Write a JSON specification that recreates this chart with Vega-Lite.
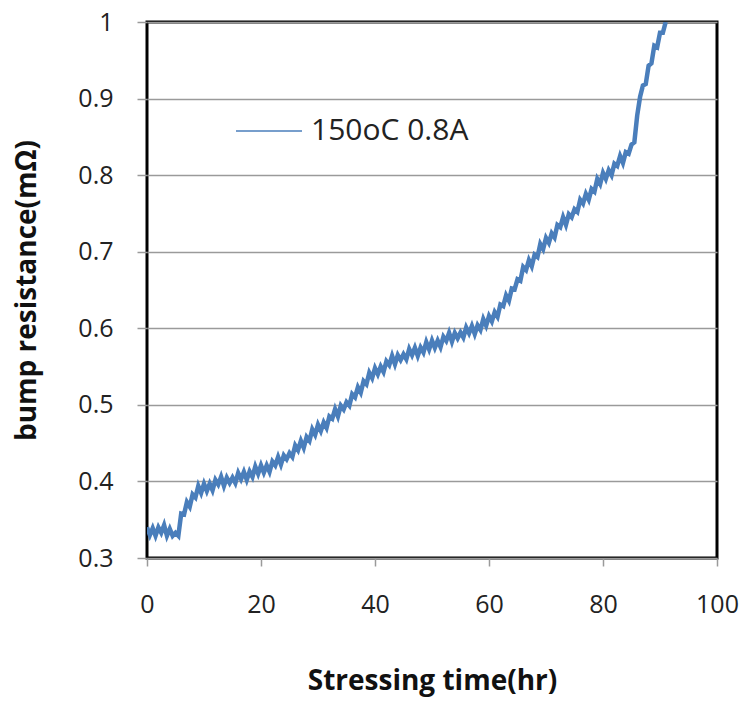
{
  "$schema": "https://vega.github.io/schema/vega-lite/v6.json",
  "width": 570,
  "height": 536,
  "autosize": {"type": "none"},
  "padding": {"left": 147, "top": 22, "right": 30, "bottom": 147},
  "background": "white",
  "config": {
    "font": "Open Sans",
    "view": {"stroke": "black", "strokeWidth": 3},
    "axis": {"labelFont": "Open Sans", "titleFont": "Open Sans"}
  },
  "data": {"values": [
    {"t":0,"r":0.340},{"t":0.5,"r":0.330},{"t":1,"r":0.339},{"t":1.5,"r":0.329},{"t":2,"r":0.340},{"t":2.5,"r":0.333},{"t":3,"r":0.343},{"t":3.5,"r":0.329},{"t":4,"r":0.338},{"t":4.5,"r":0.329},
    {"t":5,"r":0.333},{"t":5.5,"r":0.329},{"t":6,"r":0.358},{"t":6.5,"r":0.357},{"t":7,"r":0.373},{"t":7.5,"r":0.367},{"t":8,"r":0.383},{"t":8.5,"r":0.379},{"t":9,"r":0.394},{"t":9.5,"r":0.385},
    {"t":10,"r":0.397},{"t":10.5,"r":0.3875},{"t":11,"r":0.397},{"t":11.5,"r":0.3885},{"t":12,"r":0.402},{"t":12.5,"r":0.396},{"t":13,"r":0.406},{"t":13.5,"r":0.394},{"t":14,"r":0.405},{"t":14.5,"r":0.398},
    {"t":15,"r":0.405},{"t":15.5,"r":0.398},{"t":16,"r":0.411},{"t":16.5,"r":0.403},{"t":17,"r":0.4125},{"t":17.5,"r":0.402},{"t":18,"r":0.413},{"t":18.5,"r":0.406},{"t":19,"r":0.4195},{"t":19.5,"r":0.410},
    {"t":20,"r":0.421},{"t":20.5,"r":0.4115},{"t":21,"r":0.421},{"t":21.5,"r":0.4125},{"t":22,"r":0.426},{"t":22.5,"r":0.421},{"t":23,"r":0.432},{"t":23.5,"r":0.422},{"t":24,"r":0.434},{"t":24.5,"r":0.429},
    {"t":25,"r":0.437},{"t":25.5,"r":0.432},{"t":26,"r":0.447},{"t":26.5,"r":0.441},{"t":27,"r":0.453},{"t":27.5,"r":0.444},{"t":28,"r":0.458},{"t":28.5,"r":0.453},{"t":29,"r":0.468},{"t":29.5,"r":0.461},
    {"t":30,"r":0.474},{"t":30.5,"r":0.466},{"t":31,"r":0.477},{"t":31.5,"r":0.470},{"t":32,"r":0.485},{"t":32.5,"r":0.482},{"t":33,"r":0.4945},{"t":33.5,"r":0.485},{"t":34,"r":0.499},{"t":34.5,"r":0.494},
    {"t":35,"r":0.5035},{"t":35.5,"r":0.499},{"t":36,"r":0.514},{"t":36.5,"r":0.510},{"t":37,"r":0.523},{"t":37.5,"r":0.516},{"t":38,"r":0.531},{"t":38.5,"r":0.527},{"t":39,"r":0.542},{"t":39.5,"r":0.535},
    {"t":40,"r":0.548},{"t":40.5,"r":0.540},{"t":41,"r":0.550},{"t":41.5,"r":0.543},{"t":42,"r":0.557},{"t":42.5,"r":0.552},{"t":43,"r":0.564},{"t":43.5,"r":0.553},{"t":44,"r":0.565},{"t":44.5,"r":0.5585},
    {"t":45,"r":0.566},{"t":45.5,"r":0.5595},{"t":46,"r":0.573},{"t":46.5,"r":0.565},{"t":47,"r":0.5745},{"t":47.5,"r":0.564},{"t":48,"r":0.575},{"t":48.5,"r":0.5685},{"t":49,"r":0.582},{"t":49.5,"r":0.5725},
    {"t":50,"r":0.584},{"t":50.5,"r":0.5745},{"t":51,"r":0.584},{"t":51.5,"r":0.5755},{"t":52,"r":0.589},{"t":52.5,"r":0.5835},{"t":53,"r":0.594},{"t":53.5,"r":0.5825},{"t":54,"r":0.594},{"t":54.5,"r":0.587},
    {"t":55,"r":0.5945},{"t":55.5,"r":0.588},{"t":56,"r":0.601},{"t":56.5,"r":0.5935},{"t":57,"r":0.603},{"t":57.5,"r":0.5925},{"t":58,"r":0.604},{"t":58.5,"r":0.598},{"t":59,"r":0.612},{"t":59.5,"r":0.6035},
    {"t":60,"r":0.616},{"t":60.5,"r":0.609},{"t":61,"r":0.621},{"t":61.5,"r":0.615},{"t":62,"r":0.631},{"t":62.5,"r":0.629},{"t":63,"r":0.643},{"t":63.5,"r":0.636},{"t":64,"r":0.652},{"t":64.5,"r":0.651},
    {"t":65,"r":0.664},{"t":65.5,"r":0.662},{"t":66,"r":0.680},{"t":66.5,"r":0.676},{"t":67,"r":0.689},{"t":67.5,"r":0.681},{"t":68,"r":0.696},{"t":68.5,"r":0.693},{"t":69,"r":0.710},{"t":69.5,"r":0.7035},
    {"t":70,"r":0.718},{"t":70.5,"r":0.7115},{"t":71,"r":0.724},{"t":71.5,"r":0.7185},{"t":72,"r":0.735},{"t":72.5,"r":0.732},{"t":73,"r":0.745},{"t":73.5,"r":0.735},{"t":74,"r":0.749},{"t":74.5,"r":0.745},
    {"t":75,"r":0.7555},{"t":75.5,"r":0.752},{"t":76,"r":0.768},{"t":76.5,"r":0.763},{"t":77,"r":0.7755},{"t":77.5,"r":0.768},{"t":78,"r":0.782},{"t":78.5,"r":0.7785},{"t":79,"r":0.795},{"t":79.5,"r":0.7885},
    {"t":80,"r":0.803},{"t":80.5,"r":0.795},{"t":81,"r":0.8065},{"t":81.5,"r":0.800},{"t":82,"r":0.815},{"t":82.5,"r":0.812},{"t":83,"r":0.825},{"t":83.5,"r":0.816},{"t":84,"r":0.830},{"t":84.5,"r":0.828},
    {"t":85,"r":0.840},{"t":85.5,"r":0.843},{"t":86,"r":0.878},{"t":86.5,"r":0.902},{"t":87,"r":0.917},{"t":87.5,"r":0.919},{"t":88,"r":0.943},{"t":88.5,"r":0.946},{"t":89,"r":0.969},{"t":89.5,"r":0.967},
    {"t":90,"r":0.986},{"t":90.5,"r":0.986},{"t":91,"r":1.0}
  ]},
  "transform": [{"calculate": "'150oC 0.8A'", "as": "series"}],
  "mark": {"type": "line", "strokeWidth": 4.5, "clip": true},
  "encoding": {
    "x": {
      "field": "t", "type": "quantitative",
      "scale": {"domain": [0, 100], "nice": false, "zero": false},
      "axis": {
        "title": "Stressing time(hr)",
        "values": [0, 20, 40, 60, 80, 100],
        "grid": false,
        "domain": false,
        "tickColor": "#9a9a9a", "tickSize": 8, "tickWidth": 1.5,
        "labelFontSize": 25, "labelColor": "#222", "labelPadding": 26,
        "labelFlush": false,
        "titleFontSize": 28, "titleFontWeight": "bold", "titleColor": "#111", "titlePadding": 50
      }
    },
    "y": {
      "field": "r", "type": "quantitative",
      "scale": {"domain": [0.3, 1], "nice": false, "zero": false},
      "axis": {
        "title": "bump resistance(mΩ)",
        "values": [0.3, 0.4, 0.5, 0.6, 0.7, 0.8, 0.9, 1],
        "format": ".1~f",
        "grid": true, "gridColor": "#9a9a9a", "gridWidth": 1.5,
        "domain": false,
        "tickColor": "#9a9a9a", "tickSize": 10, "tickWidth": 1.5,
        "labelFontSize": 25, "labelColor": "#222", "labelPadding": 24,
        "labelFlush": false,
        "titleFontSize": 28, "titleFontWeight": "bold", "titleColor": "#111", "titlePadding": 36
      }
    },
    "color": {
      "field": "series", "type": "nominal",
      "scale": {"range": ["#4a7ebb"]},
      "legend": {
        "title": null,
        "orient": "none",
        "legendX": 88,
        "legendY": 75,
        "symbolType": "stroke",
        "symbolSize": 4356,
        "symbolStrokeWidth": 1.6,
        "labelFontSize": 30,
        "labelColor": "#222",
        "labelOffset": 8,
        "labelFont": "Open Sans"
      }
    }
  }
}
